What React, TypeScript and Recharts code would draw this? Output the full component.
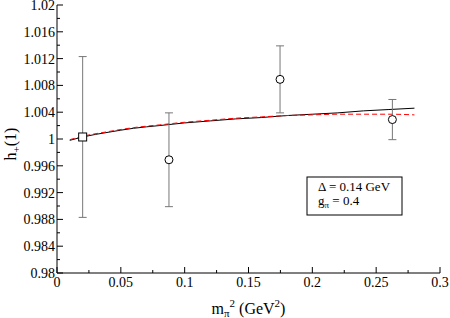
import { ComposedChart, Line, Scatter, ErrorBar, XAxis, YAxis } from 'recharts';

// lattice points (m_pi^2, h+(1)) with symmetric errors
const latticeX = [0.0201, 0.0877, 0.1747, 0.2627];
const latticeY = [1.0003, 0.9969, 1.0089, 1.0029];
const latticeErr = [0.012, 0.007, 0.005, 0.003];

// chiral fit curves
const fitX = [0.01, 0.02, 0.04, 0.06, 0.08, 0.1, 0.12, 0.14, 0.16, 0.18, 0.2, 0.22, 0.24, 0.26, 0.28];
const fitSolid = [0.9998, 1.0003, 1.001, 1.0016, 1.002, 1.0024, 1.0027, 1.003, 1.0032, 1.0035, 1.0037, 1.0039, 1.0042, 1.0044, 1.0046];
const fitDashed = [0.9999, 1.0004, 1.0011, 1.0017, 1.0021, 1.0025, 1.0028, 1.0031, 1.0033, 1.0035, 1.0036, 1.0037, 1.0037, 1.0037, 1.0036];

const xTicks = [0, 0.025, 0.05, 0.075, 0.1, 0.125, 0.15, 0.175, 0.2, 0.225, 0.25, 0.275, 0.3];
const yTicks = [
  0.98, 0.982, 0.984, 0.986, 0.988, 0.99, 0.992, 0.994, 0.996, 0.998, 1,
  1.002, 1.004, 1.006, 1.008, 1.01, 1.012, 1.014, 1.016, 1.018, 1.02,
];

const FONT = '"Liberation Serif", "Times New Roman", serif';

const squarePts = [{ x: latticeX[0], y: latticeY[0], err: [latticeErr[0], latticeErr[0]] }];
const circlePts = latticeX.slice(1).map((x, i) => ({ x, y: latticeY[i + 1], err: [latticeErr[i + 1], latticeErr[i + 1]] }));
const solidData = fitX.map((x, i) => ({ x, y: fitSolid[i] }));
const dashedData = fitX.map((x, i) => ({ x, y: fitDashed[i] }));

const isMajor = (v: number, step: number) => Math.abs(v / step - Math.round(v / step)) < 1e-6;
const fmt = (v: number) => String(Number(v.toFixed(3)));

function BottomTick(props: any) {
  const { x, y, payload } = props;
  const major = isMajor(payload.value, 0.05);
  return (
    <g>
      <line x1={x} x2={x} y1={y} y2={y - (major ? 6 : 3)} stroke="#000" />
      {major && (
        <text x={x} y={y + 14} textAnchor="middle" fontSize={14} fontFamily={FONT} fill="#000">
          {fmt(payload.value)}
        </text>
      )}
    </g>
  );
}

function TopTick(props: any) {
  const { x, y, payload } = props;
  const major = isMajor(payload.value, 0.05);
  return <line x1={x} x2={x} y1={y} y2={y + (major ? 6 : 3)} stroke="#000" />;
}

function LeftTick(props: any) {
  const { x, y, payload } = props;
  const major = isMajor(payload.value, 0.004);
  return (
    <g>
      <line x1={x} x2={x + (major ? 6 : 3)} y1={y} y2={y} stroke="#000" />
      {major && (
        <text x={x - 2} y={y + 5} textAnchor="end" fontSize={14} fontFamily={FONT} fill="#000">
          {fmt(payload.value)}
        </text>
      )}
    </g>
  );
}

function RightTick(props: any) {
  const { x, y, payload } = props;
  const major = isMajor(payload.value, 0.004);
  return <line x1={x} x2={x - (major ? 6 : 3)} y1={y} y2={y} stroke="#000" />;
}

function XLabel(props: any) {
  const { viewBox } = props;
  const cx = viewBox.x + viewBox.width / 2;
  return (
    <text x={cx} y={viewBox.y + 41} textAnchor="middle" fontSize={16} fontFamily={FONT} fill="#000">
      m
      <tspan fontSize={11} dy={3}>π</tspan>
      <tspan fontSize={11} dy={-10}>2</tspan>
      <tspan dy={7}> (GeV</tspan>
      <tspan fontSize={11} dy={-7}>2</tspan>
      <tspan dy={7}>)</tspan>
    </text>
  );
}

function YLabel(props: any) {
  const { viewBox } = props;
  const cy = viewBox.y + viewBox.height / 2 + 5;
  const x = 16;
  return (
    <text x={x} y={cy} transform={`rotate(-90 ${x} ${cy})`} textAnchor="middle" fontSize={16} fontFamily={FONT} fill="#000">
      h
      <tspan fontSize={11} dy={4}>+</tspan>
      <tspan dy={-4}>(1)</tspan>
    </text>
  );
}

const SquareShape = (p: any) => (
  <rect x={p.cx - 4} y={p.cy - 4} width={8} height={8} fill="#fff" stroke="#000" />
);
const CircleShape = (p: any) => <circle cx={p.cx} cy={p.cy} r={4} fill="#fff" stroke="#000" />;

export default function App() {
  return (
    <div style={{ position: 'absolute', left: 0, top: 0, background: '#fff' }}>
      <ComposedChart width={450} height={318} margin={{ top: 5, right: 10, bottom: 0, left: 0 }}>
        <XAxis
          dataKey="x"
          type="number"
          domain={[0, 0.3]}
          ticks={xTicks}
          interval={0}
          height={45}
          tickSize={0}
          tickMargin={0}
          stroke="#000"
          tick={BottomTick}
          label={XLabel}
          allowDataOverflow
        />
        <XAxis
          xAxisId="top"
          orientation="top"
          type="number"
          domain={[0, 0.3]}
          ticks={xTicks}
          interval={0}
          height={0}
          tickSize={0}
          tickMargin={0}
          stroke="#000"
          tick={TopTick}
          allowDataOverflow
        />
        <YAxis
          dataKey="y"
          type="number"
          domain={[0.98, 1.02]}
          ticks={yTicks}
          interval={0}
          width={57}
          tickSize={0}
          tickMargin={0}
          stroke="#000"
          tick={LeftTick}
          label={YLabel}
          allowDataOverflow
        />
        <YAxis
          yAxisId="right"
          orientation="right"
          type="number"
          domain={[0.98, 1.02]}
          ticks={yTicks}
          interval={0}
          width={0}
          tickSize={0}
          tickMargin={0}
          stroke="#000"
          tick={RightTick}
          allowDataOverflow
        />
        <Line data={solidData} dataKey="y" type="monotone" stroke="#000" strokeWidth={1} dot={false} isAnimationActive={false} />
        <Line data={dashedData} dataKey="y" type="monotone" stroke="#ff0000" strokeWidth={1} strokeDasharray="5 3" dot={false} isAnimationActive={false} />
        <Scatter data={squarePts} dataKey="y" shape={SquareShape} isAnimationActive={false}>
          <ErrorBar dataKey="err" direction="y" width={4} stroke="#777" strokeWidth={1} />
        </Scatter>
        <Scatter data={circlePts} dataKey="y" shape={CircleShape} isAnimationActive={false}>
          <ErrorBar dataKey="err" direction="y" width={4} stroke="#777" strokeWidth={1} />
        </Scatter>
        <g>
          <rect x={307} y={177} width={95} height={38} fill="#fff" stroke="#000" />
          <text x={318} y={191} fontSize={13} fontFamily={FONT} fill="#000">Δ = 0.14 GeV</text>
          <text x={318} y={205} fontSize={13} fontFamily={FONT} fill="#000">
            g<tspan fontSize={9} dy={3}>π</tspan>
            <tspan dy={-3}> = 0.4</tspan>
          </text>
        </g>
      </ComposedChart>
    </div>
  );
}
